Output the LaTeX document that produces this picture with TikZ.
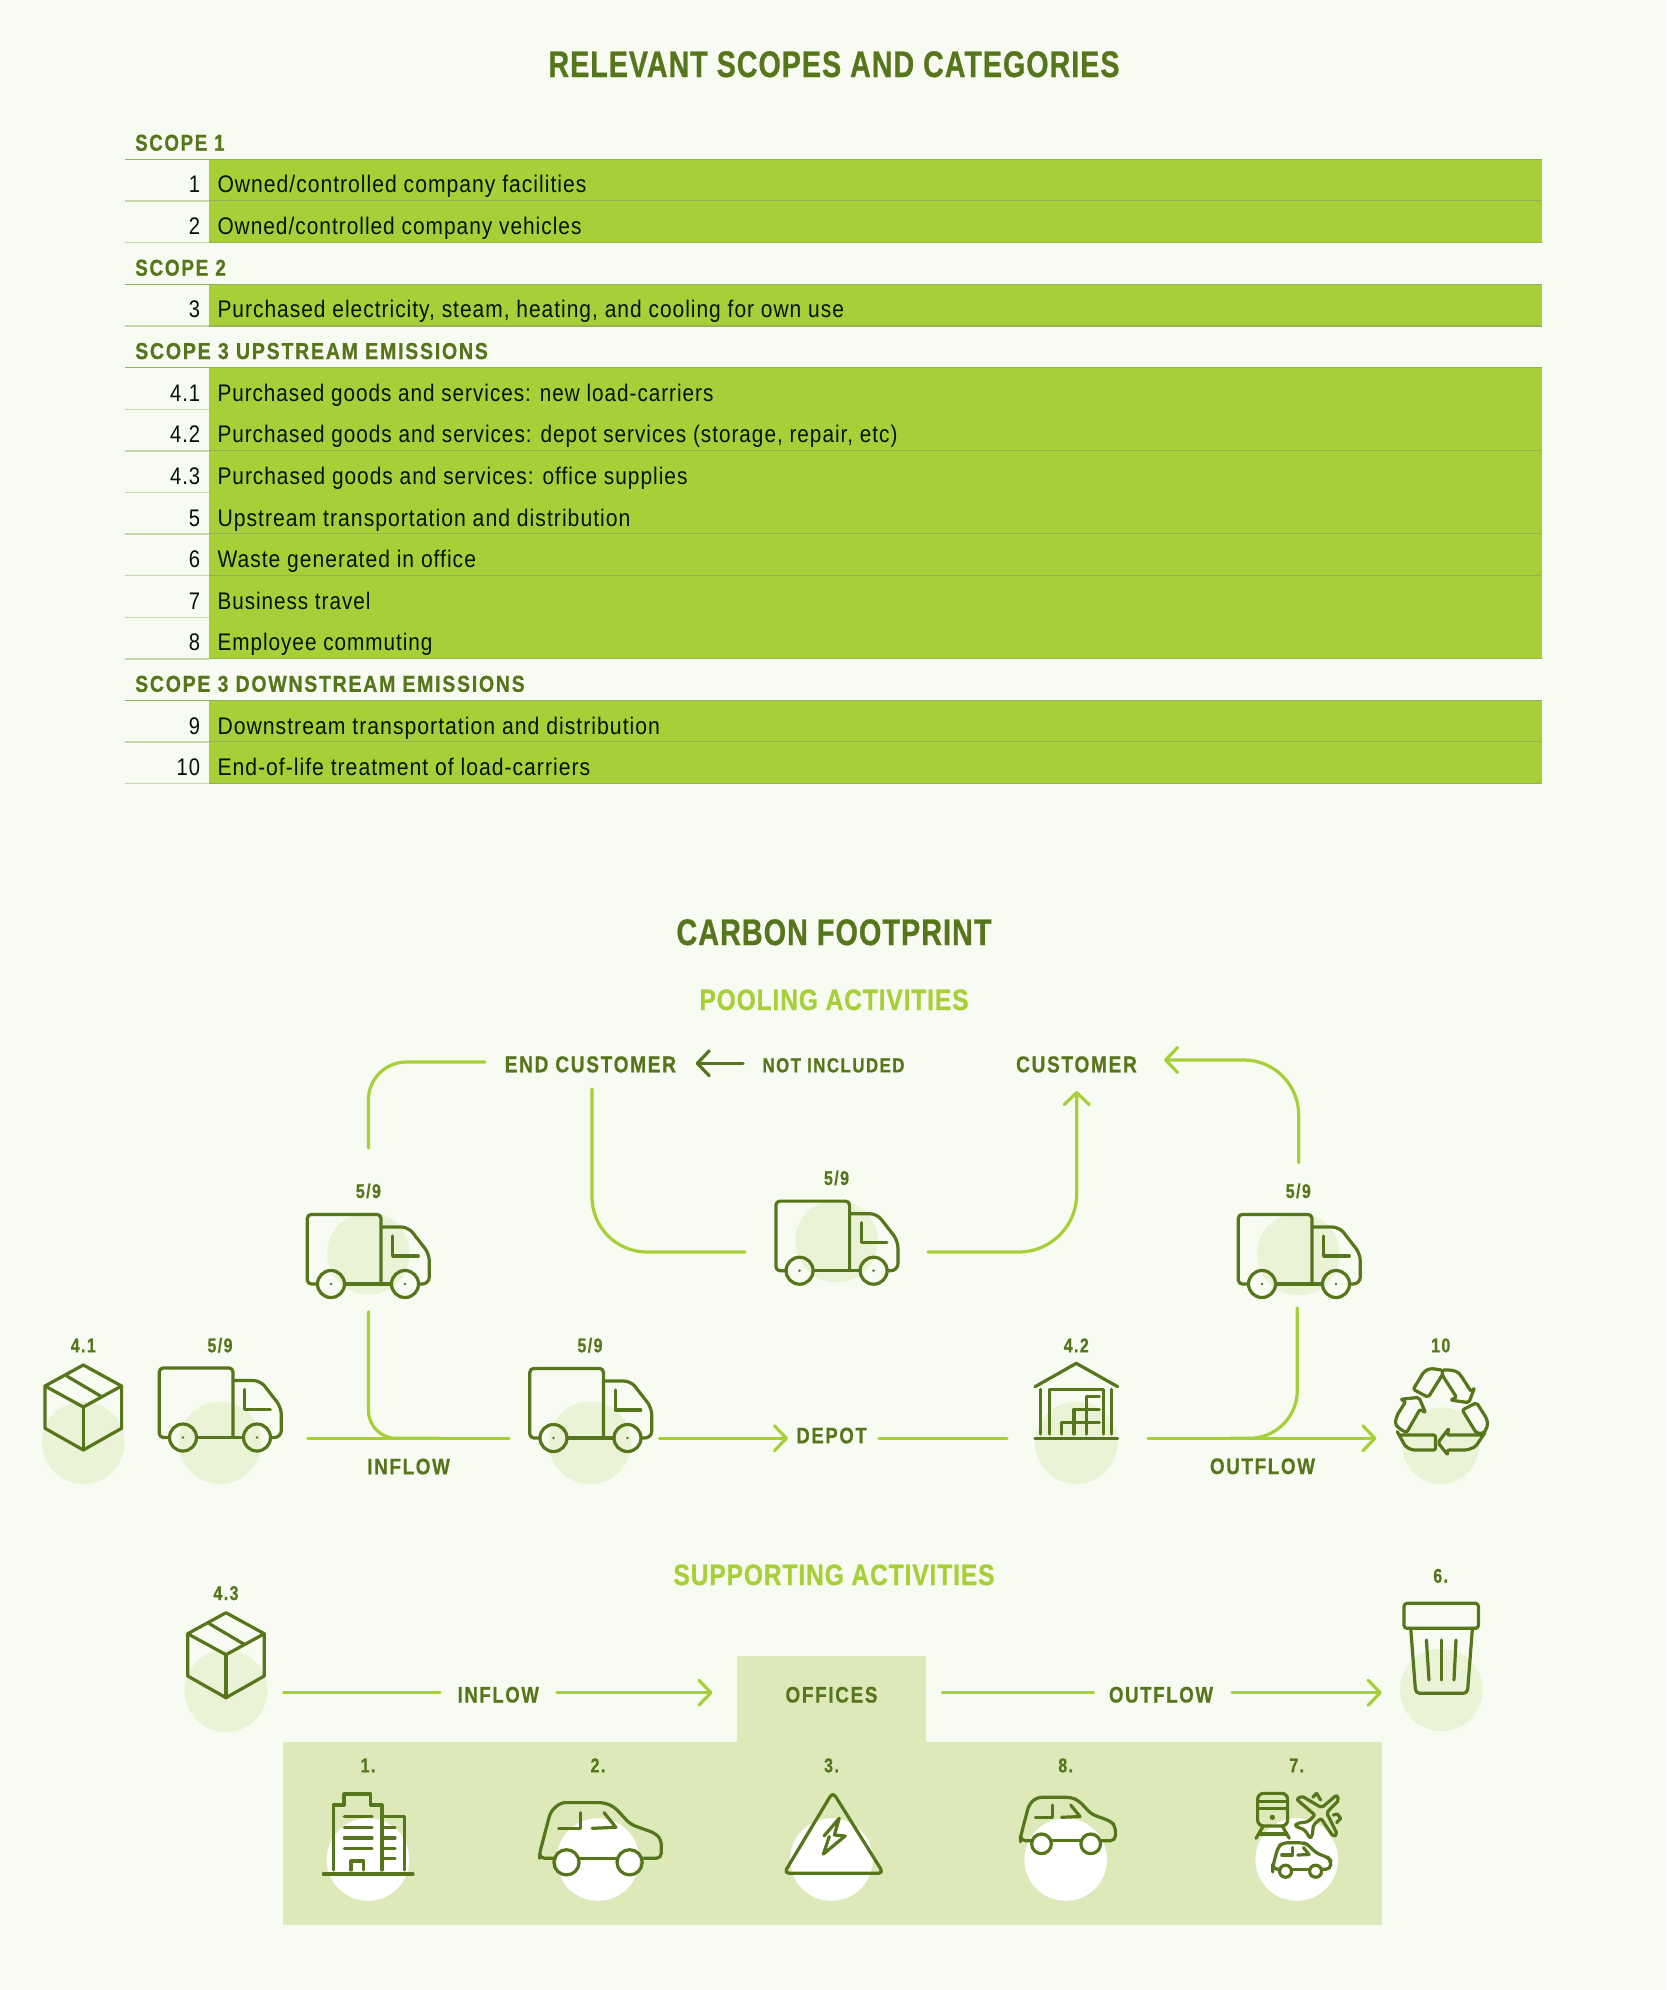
\documentclass[tikz,border=0pt]{standalone}
\usepackage{fontspec}
\usepackage{graphicx}
\usetikzlibrary{arrows.meta}
\setmainfont[FakeStretch=0.84,LetterSpace=4]{Liberation Sans}
\newfontfamily\lblf[FakeStretch=0.8,LetterSpace=7,BoldFeatures={FakeBold=0.6}]{Liberation Sans}
\newfontfamily\ttlf[FakeStretch=0.82,LetterSpace=3,BoldFeatures={FakeBold=0.8}]{Liberation Sans}
\definecolor{dk}{HTML}{55761B}
\definecolor{lg}{HTML}{A6D037}
\definecolor{bgc}{HTML}{F8FBF1}
\definecolor{pale}{HTML}{EBF3D7}
\definecolor{boxc}{HTML}{DDE9B8}
\definecolor{rowc}{HTML}{A6CF38}
\definecolor{rulea}{HTML}{94B257}
\definecolor{ruleb}{HTML}{C9D6A9}
\newcommand{\fw}[2]{\resizebox{#1pt}{\height}{#2}}
\newcommand{\fs}[1]{\fontsize{#1}{#1}\selectfont}
\tikzset{
  icon/.style={draw=dk,line width=3.2pt,line join=round,line cap=round},
  flow/.style={draw=lg,line width=3.2pt,line cap=round},
  flowar/.style={flow,-{Straight Barb[length=12pt,width=25pt,line width=3.2pt,round]}},
  darkar/.style={draw=dk,line width=3.2pt,line cap=round,-{Straight Barb[length=12pt,width=25pt,line width=3.2pt,round]}},
  txt/.style={anchor=base,inner sep=0pt,text=dk},
  rowtxt/.style={anchor=base west,inner sep=0pt,text=black!92!green},
  rownum/.style={anchor=base east,inner sep=0pt,text=black!92!green},
  scopetxt/.style={anchor=base west,inner sep=0pt,text=dk},
  blob/.style={fill=pale,draw=none},
  wblob/.style={fill=white,draw=none},
  truckpic/.pic={
    \draw[icon,rounded corners=4pt] (10.2,0) -- (0,0) -- (0,-69.6) -- (73.7,-69.6) -- (73.7,0);
    \draw[icon,rounded corners=7pt] (73.7,-57) -- (101,-57) -- (122,-30) -- (122,0) -- (111.2,0);
    \draw[icon] (37.2,0) -- (84.2,0);
    \draw[icon] (23.7,0) circle[radius=13.5];
    \draw[icon] (97.7,0) circle[radius=13.5];
    \fill[dk] (23.7,0) circle[radius=1.4];
    \fill[dk] (97.7,0) circle[radius=1.4];
    \draw[icon] (85.3,-48) -- (85.3,-28) -- (111,-28);
  },
  cratepic/.pic={
    \draw[icon] (0,0) -- (38.3,21) -- (0,42) -- (-38.3,21) -- cycle;
    \draw[icon] (-38.3,21) -- (-38.3,63.3) -- (0,85) -- (38.3,63.3) -- (38.3,21);
    \draw[icon] (0,42) -- (0,85);
    \draw[icon] (-16.6,11) -- (18.4,31.7);
  },
  carpic/.pic={
    \draw[icon,rounded corners=5pt] (15.8,0) -- (0,0) -- (0,-5) -- (11,-46.7) -- (21,-55.7) -- (64.4,-55.7) -- (74.3,-51.7) -- (90.9,-34) -- (115.8,-25) -- (121.7,-18.3) -- (121.7,0) -- (104,0);
    \draw[icon] (39.5,0) -- (77.4,0);
    \draw[icon] (26.9,4) circle[radius=12.6];
    \draw[icon] (90,4) circle[radius=12.6];
    \draw[icon] (40.7,-45.7) -- (40.7,-30) -- (19,-30);
    \draw[icon] (64.4,-45.7) -- (76.3,-31) -- (52.6,-30);
  }
}
\newcounter{rw}
\newcommand{\trow}[4]{% top y, number, width, text
  \stepcounter{rw}
  \fill[rowc] (208.7,#1) rectangle (1541.6,#1+41.6);
  \draw[ruleb,line width=1.4pt] (125.3,#1+41.6) -- (208.7,#1+41.6);
  \draw[rulea,line width=1.2pt] (208.7,#1+41.6) -- (1541.6,#1+41.6);
  \node[rownum,font=\fs{24}] (num\therw) at (200.3,#1+33.6) {#2};
  \node[rowtxt,font=\fs{24}] (row\therw) at (217.3,#1+33.6) {\fw{#3}{#4}};
}
\newcommand{\tscope}[4]{% name, next row top y, width, text
  \draw[rulea,line width=1.4pt] (125.3,#2) -- (1541.6,#2);
  \node[scopetxt,font=\lblf\bfseries\fs{23}] (#1) at (135,#2-8.6) {\fw{#3}{#4}};
}
\begin{document}
\begin{tikzpicture}[x=1pt,y=-1pt]
\useasboundingbox (0,0) rectangle (1666,1990);
\fill[bgc] (0,0) rectangle (1666,1990);

% --- table
\node[txt,font=\ttlf\bfseries\fs{37}] (title1) at (834,77) {\fw{571}{RELEVANT SCOPES AND CATEGORIES}};
\trow{159.3}{1}{369}{Owned/controlled company facilities}
\trow{200.9}{2}{364}{Owned/controlled company vehicles}
\trow{284.3}{3}{626.5}{Purchased electricity, steam, heating, and cooling for own use}
\trow{367.6}{4.1}{496}{Purchased goods and services: new load-carriers}
\trow{409.2}{4.2}{680}{Purchased goods and services: depot services (storage, repair, etc)}
\trow{450.8}{4.3}{470}{Purchased goods and services: office supplies}
\trow{492.4}{5}{413}{Upstream transportation and distribution}
\trow{534.0}{6}{258.5}{Waste generated in office}
\trow{575.6}{7}{153}{Business travel}
\trow{617.2}{8}{215}{Employee commuting}
\trow{700.4}{9}{442.5}{Downstream transportation and distribution}
\trow{742.0}{10}{372.7}{End-of-life treatment of load-carriers}
\tscope{sc1}{159.3}{89.3}{SCOPE 1}
\tscope{sc2}{284.3}{90.7}{SCOPE 2}
\tscope{sc3}{367.6}{352.7}{SCOPE 3 UPSTREAM EMISSIONS}
\tscope{sc4}{700.4}{389.5}{SCOPE 3 DOWNSTREAM EMISSIONS}

% --- headings
\node[txt,font=\ttlf\bfseries\fs{37}] (title2) at (834,945) {\fw{315}{CARBON FOOTPRINT}};
\node[txt,text=lg,font=\ttlf\bfseries\fs{29.5}] (sub1) at (834,1010) {\fw{269}{POOLING ACTIVITIES}};
\node[txt,text=lg,font=\ttlf\bfseries\fs{29.5}] (sub2) at (834,1585) {\fw{321}{SUPPORTING ACTIVITIES}};

% --- blobs
\fill[blob] (83.3,1442.7) circle[radius=41.3];
\fill[blob] (220,1442.7) circle[radius=41.3];
\fill[blob] (590,1442.7) circle[radius=41.3];
\fill[blob] (1076.3,1442.7) circle[radius=41.3];
\fill[blob] (1440.7,1445.7) circle[radius=38.3];
\fill[blob] (368.4,1253.5) circle[radius=41.3];
\fill[blob] (836.5,1241) circle[radius=41.3];
\fill[blob] (1298.3,1254) circle[radius=41.3];
\fill[blob] (226,1690.7) circle[radius=41.3];
\fill[blob] (1441.3,1690) circle[radius=41.3];

% --- offices panels
\fill[boxc] (736.5,1655.5) rectangle (926,1745);
\fill[boxc] (283,1741.5) rectangle (1382,1925);
\fill[wblob] (368,1859.5) circle[radius=41.3];
\fill[wblob] (598,1859.5) circle[radius=41.3];
\fill[wblob] (831.5,1859.5) circle[radius=41.3];
\fill[wblob] (1065.7,1859.5) circle[radius=41.3];
\fill[wblob] (1296.7,1859.5) circle[radius=41.3];

% --- labels
\node[txt,font=\lblf\bfseries\fs{23}] (endcust) at (590.4,1072.3) {\fw{171.2}{END CUSTOMER}};
\node[txt,font=\lblf\bfseries\fs{20.4}] (notinc) at (833.5,1072.3) {\fw{142}{NOT INCLUDED}};
\node[txt,font=\lblf\bfseries\fs{23}] (cust) at (1076.5,1072.3) {\fw{120.7}{CUSTOMER}};
\node[txt,font=\lblf\bfseries\fs{22.5}] (infl1) at (408.6,1474.3) {\fw{82.7}{INFLOW}};
\node[txt,font=\lblf\bfseries\fs{22.5}] (depot) at (831.6,1443.3) {\fw{70.4}{DEPOT}};
\node[txt,font=\lblf\bfseries\fs{22.5}] (outf1) at (1262.5,1474) {\fw{105}{OUTFLOW}};
\node[txt,font=\lblf\bfseries\fs{22.5}] (infl2) at (498.3,1702.5) {\fw{81.2}{INFLOW}};
\node[txt,font=\lblf\bfseries\fs{22.5}] (offices) at (831.5,1702.5) {\fw{92}{OFFICES}};
\node[txt,font=\lblf\bfseries\fs{22.5}] (outf2) at (1161,1702.5) {\fw{104}{OUTFLOW}};
\tikzset{numlab/.style={txt,font=\lblf\bfseries\fs{20}}}
\node[numlab] (l41) at (83.3,1352.3) {4.1};
\node[numlab] (l59a) at (220,1352.3) {5/9};
\node[numlab] (l59b) at (590,1352.3) {5/9};
\node[numlab] (l42) at (1076.3,1352.3) {4.2};
\node[numlab] (l10) at (1440.7,1352.3) {10};
\node[numlab] (l59c) at (368.4,1198) {5/9};
\node[numlab] (l59d) at (836.5,1185) {5/9};
\node[numlab] (l59e) at (1298.3,1198) {5/9};
\node[numlab] (l43) at (226,1600) {4.3};
\node[numlab] (l6) at (1440.7,1582.7) {6.};
\node[numlab] (l1) at (368,1772.3) {1.};
\node[numlab] (l2) at (598,1772.3) {2.};
\node[numlab] (l3) at (831.5,1772.3) {3.};
\node[numlab] (l8) at (1065.7,1772.3) {8.};
\node[numlab] (l7) at (1296.7,1772.3) {7.};

% --- connector ends
\coordinate (ecW) at (485,1062);
\coordinate (ecS) at (592,1089);
\coordinate (ecE) at (695.7,1063.3);
\coordinate (niW) at (743,1063.3);
\coordinate (cuS) at (1076.7,1091);
\coordinate (cuE) at (1164,1060);
\coordinate (taN) at (368.4,1148);
\coordinate (taS) at (368.4,1311.7);
\coordinate (tdW) at (745,1252);
\coordinate (tdE) at (928,1252);
\coordinate (teN) at (1298.7,1162.7);
\coordinate (teS) at (1297.3,1308);
\coordinate (tbE) at (307.8,1438.3);
\coordinate (tcW) at (509,1438.3);
\coordinate (tcE) at (659.5,1438.3);
\coordinate (depW) at (788,1438.3);
\coordinate (depE) at (879,1438.3);
\coordinate (whW) at (1007,1438.3);
\coordinate (whE) at (1148,1438.3);
\coordinate (reW) at (1376.5,1438.3);
\coordinate (tcJ) at (440,1438.3);
\coordinate (whJ) at (1230,1438.3);
\coordinate (crE) at (283.7,1692.7);
\coordinate (i2W) at (440,1692.7);
\coordinate (i2E) at (557,1692.7);
\coordinate (ofW) at (712.5,1692.7);
\coordinate (ofE) at (942.5,1692.7);
\coordinate (o2W) at (1093.5,1692.7);
\coordinate (o2E) at (1232,1692.7);
\coordinate (trW) at (1381.8,1692.7);

% --- connectors
\draw[flow,rounded corners=38pt] (taN) |- (ecW);
\draw[flow,rounded corners=55pt] (ecS) |- (tdW);
\draw[darkar] (niW) -- (ecE);
\draw[flowar,rounded corners=58pt] (tdE) -| (cuS);
\draw[flowar,rounded corners=55pt] (teN) |- (cuE);
\draw[flow] (tbE) -- (tcW);
\draw[flow,rounded corners=28pt] (taS) |- (tcJ);
\draw[flowar] (tcE) -- (depW);
\draw[flow] (depE) -- (whW);
\draw[flowar] (whE) -- (reW);
\draw[flow,rounded corners=48pt] (teS) |- (whJ);
\draw[flow] (crE) -- (i2W);
\draw[flowar] (i2E) -- (ofW);
\draw[flow] (ofE) -- (o2W);
\draw[flowar] (o2E) -- (trW);

% --- trucks and crates
\pic at (159.3,1437.5) {truckpic};
\pic at (529.8,1438) {truckpic};
\pic at (307.3,1284) {truckpic};
\pic at (775.9,1270.7) {truckpic};
\pic at (1238.3,1284) {truckpic};
\pic at (83.3,1365) {cratepic};
\pic at (226,1612.7) {cratepic};

% --- warehouse
\draw[icon] (1035,1386.7) -- (1076.3,1363.3) -- (1117.7,1386.7);
\draw[icon] (1035,1438.3) -- (1117.7,1438.3);
\draw[icon] (1040.7,1389.3) -- (1040.7,1434);
\draw[icon] (1111.7,1389.3) -- (1111.7,1434);
\draw[icon] (1049.3,1434) -- (1049.3,1389.3) -- (1103.3,1389.3) -- (1103.3,1434);
\draw[icon] (1061.7,1434) -- (1061.7,1422.3) -- (1099.3,1422.3);
\draw[icon] (1074,1434) -- (1074,1409.3) -- (1099.3,1409.3);
\draw[icon] (1086.7,1434) -- (1086.7,1396.7) -- (1099.3,1396.7);

% --- recycle
\begin{scope}[shift={(1000.6,1320)},x=0.3333pt,y=-0.3333pt]
\tikzset{rec/.style={icon,rounded corners=2pt}}
\draw[rec] (1325,150) to[out=0,in=135] (1380,165) -- (1412,215) -- (1422,203) -- (1405,248) -- (1350,240) -- (1368,232) -- (1325,165) -- cycle;
\draw[rec] (1322,150) -- (1290,145) -- (1270,155) -- (1238,208) -- (1283,232) -- (1325,165);
\draw[rec] (1200,238) -- (1255,232) -- (1275,278) -- (1258,268) -- (1218,338) -- (1195,325) -- (1183,310) -- (1190,285) -- (1215,245) -- cycle;
\draw[rec] (1195,345) -- (1305,345) -- (1305,390) -- (1235,390) -- (1215,380) -- (1190,335);
\draw[rec] (1345,325) -- (1312,368) -- (1342,405) -- (1340,390) -- (1400,390) -- (1425,380) -- (1455,335) -- (1445,345) -- (1340,345) -- cycle;
\draw[rec] (1385,270) -- (1428,248) -- (1458,295) -- (1462,315) -- (1450,340) -- (1428,340) -- cycle;
\end{scope}

% --- trash bin
\draw[icon,rounded corners=3pt] (1404,1603.3) rectangle (1478.4,1628.3);
\draw[icon,rounded corners=4pt] (1410.7,1628.3) -- (1415.7,1693.3) -- (1467.4,1693.3) -- (1472.4,1628.3);
\draw[icon] (1426.4,1640) -- (1429,1680);
\draw[icon] (1441.4,1640) -- (1441.4,1680);
\draw[icon] (1456,1640) -- (1454,1680);

% --- building
\draw[icon] (323.4,1874) -- (413,1874);
\draw[icon] (333.2,1870) -- (333.2,1805) -- (344,1805) -- (344,1794) -- (370.8,1794) -- (370.8,1805) -- (381.9,1805) -- (381.9,1870);
\draw[icon] (384.6,1816.7) -- (404.4,1816.7) -- (404.4,1870);
\foreach \yy in {1816.7,1827.3,1838,1848.3} \draw[icon] (344.3,\yy) -- (372,\yy);
\foreach \yy in {1827.3,1838,1848.3,1858.3} \draw[icon] (384.6,\yy) -- (395,\yy);
\draw[icon] (351,1870) -- (351,1861) -- (363.7,1861) -- (363.7,1870);

% --- cars
\pic at (539.6,1858.3) {carpic};
\begin{scope}[shift={(1020.5,1840.7)},x=0.78pt,y=-0.78pt]
\pic at (0,0) {carpic};
\end{scope}
\begin{scope}[shift={(1272.7,1869.3)},x=0.477pt,y=-0.477pt]
\pic at (0,0) {carpic};
\end{scope}

% --- warning triangle and bolt
\draw[icon,rounded corners=5pt] (832.8,1792) -- (784,1873.3) -- (883.5,1873.3) -- cycle;
\draw[icon] (824,1836) -- (839.2,1818.3) -- (834.4,1835) -- (845.1,1836) -- (823.4,1854) -- (829.3,1836.5);

% --- train and plane
\begin{scope}[shift={(960,1740)},x=0.3333pt,y=-0.3333pt]
\draw[icon,rounded corners=6pt] (893,160) rectangle (983,258);
\draw[icon] (893,185) -- (983,185);
\draw[icon] (893,205) -- (983,205);
\fill[dk] (937,232) circle[radius=8];
\draw[icon] (910,258) -- (888,295);
\draw[icon] (967,258) -- (988,295);
\draw[icon] (897,282) -- (980,282);
\draw[icon,rounded corners=2pt] (1130,165) -- (1085,203) -- (1025,168) -- (1010,178) -- (1065,225) -- (1045,245) -- (1010,250) -- (1005,258) -- (1035,270) -- (1050,295) -- (1057,288) -- (1060,255) -- (1083,235) -- (1120,290) -- (1132,283) -- (1100,218) -- (1137,180) -- cycle;
\draw[icon] (1058,172) -- (1070,160) -- (1082,180);
\draw[icon] (1120,225) -- (1132,222) -- (1142,235) -- (1130,248);
\end{scope}
\end{tikzpicture}
\end{document}
